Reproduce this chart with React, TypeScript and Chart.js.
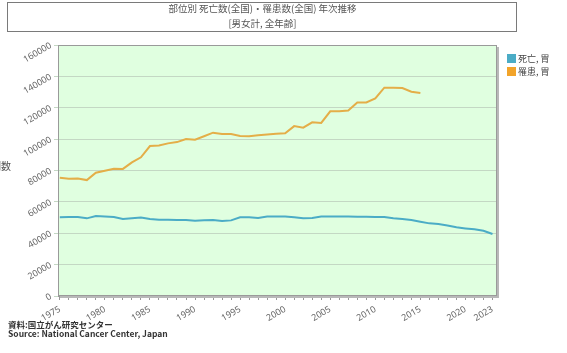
import React, { useEffect, useRef } from "react";
import { Chart, registerables } from "chart.js";

Chart.register(...registerables);

const titleLine1 = "部位別 死亡数(全国)・罹患数(全国) 年次推移";
const titleLine2 = "[男女計, 全年齢]";
const sourceJa = "資料:国立がん研究センター";
const sourceEn = "Source: National Cancer Center, Japan";
const yAxisTitle = "例数";

const deathLabel = "死亡, 胃";
const incidenceLabel = "罹患, 胃";

const deathYears = [
  1975, 1976, 1977, 1978, 1979, 1980, 1981, 1982, 1983, 1984, 1985, 1986, 1987, 1988, 1989,
  1990, 1991, 1992, 1993, 1994, 1995, 1996, 1997, 1998, 1999, 2000, 2001, 2002, 2003, 2004,
  2005, 2006, 2007, 2008, 2009, 2010, 2011, 2012, 2013, 2014, 2015, 2016, 2017, 2018, 2019,
  2020, 2021, 2022, 2023,
];
const deathValues = [
  50200, 50400, 50400, 49500, 51000, 50700, 50400, 49100, 49500, 50000, 49100, 48600, 48600, 48400, 48400,
  48000, 48300, 48400, 47800, 48200, 50200, 50200, 49700, 50600, 50700, 50700, 50200, 49500, 49700, 50600,
  50600, 50600, 50600, 50500, 50500, 50300, 50300, 49500, 49100, 48400, 47400, 46300, 45900, 45000, 43800,
  43100, 42500, 41600, 39500,
];

const incidenceYears = [
  1975, 1976, 1977, 1978, 1979, 1980, 1981, 1982, 1983, 1984, 1985, 1986, 1987, 1988, 1989,
  1990, 1991, 1992, 1993, 1994, 1995, 1996, 1997, 1998, 1999, 2000, 2001, 2002, 2003, 2004,
  2005, 2006, 2007, 2008, 2009, 2010, 2011, 2012, 2013, 2014, 2015,
];
const incidenceValues = [
  75400, 74800, 74900, 73900, 78600, 79900, 81100, 81000, 85200, 88400, 95600, 96000, 97300, 98100, 100100,
  99600, 101800, 104100, 103200, 103200, 102000, 101800, 102400, 103000, 103400, 103700, 108300, 107300, 110700, 110300,
  117700, 117700, 118300, 123400, 123400, 126000, 132800, 132800, 132600, 130200, 129400,
];

const tickYears = [
  1975, 1976, 1977, 1978, 1979, 1980, 1981, 1982, 1983, 1984, 1985, 1986, 1987, 1988, 1989,
  1990, 1991, 1992, 1993, 1994, 1995, 1996, 1997, 1998, 1999, 2000, 2001, 2002, 2003, 2004,
  2005, 2006, 2007, 2008, 2009, 2010, 2011, 2012, 2013, 2014, 2015, 2016, 2017, 2018, 2019,
  2020, 2021, 2022, 2023,
];
const labeledYears = [1975, 1980, 1985, 1990, 1995, 2000, 2005, 2010, 2015, 2020, 2023];
const yTicks = [0, 20000, 40000, 60000, 80000, 100000, 120000, 140000, 160000];

const deathColor = "#4bacc6";
const incidenceColor = "#e4ae48";
const legendIncColor = "#f2a42a";

const plotAreaPlugin = {
  id: "plotArea",
  beforeDraw(chart: any) {
    const { ctx, chartArea: a } = chart;
    ctx.save();
    ctx.fillStyle = "#e0ffe0";
    ctx.fillRect(a.left, a.top, a.right - a.left, a.bottom - a.top);
    ctx.restore();
  },
  afterDraw(chart: any) {
    const { ctx, chartArea: a } = chart;
    ctx.save();
    ctx.fillStyle = "#b8b8b8";
    ctx.fillRect(a.right, a.top + 2, 2, a.bottom - a.top);
    ctx.fillRect(a.left + 2, a.bottom, a.right - a.left, 2);
    ctx.strokeStyle = "#9a9a9a";
    ctx.lineWidth = 1;
    ctx.strokeRect(a.left + 0.5, a.top + 0.5, a.right - a.left - 1, a.bottom - a.top - 1);
    ctx.restore();
  },
};

export default function App() {
  const ref = useRef<HTMLCanvasElement | null>(null);

  useEffect(() => {
    if (!ref.current) return;
    const chart = new Chart(ref.current, {
      type: "line",
      data: {
        datasets: [
          {
            label: deathLabel,
            data: deathYears.map((x, i) => ({ x, y: deathValues[i] })),
            borderColor: deathColor,
            backgroundColor: deathColor,
            borderWidth: 2,
            pointRadius: 0,
            tension: 0,
          },
          {
            label: incidenceLabel,
            data: incidenceYears.map((x, i) => ({ x, y: incidenceValues[i] })),
            borderColor: incidenceColor,
            backgroundColor: incidenceColor,
            borderWidth: 2,
            pointRadius: 0,
            tension: 0,
          },
        ],
      },
      options: {
        animation: false,
        responsive: false,
        maintainAspectRatio: false,
        layout: { padding: { top: 45, right: 70, left: 0, bottom: 0 } },
        plugins: {
          legend: { display: false },
          tooltip: { enabled: false },
        },
        scales: {
          x: {
            type: "linear",
            min: 1974.8,
            max: 2023.5,
            afterBuildTicks: (scale: any) => {
              scale.ticks = tickYears.map((v) => ({ value: v }));
            },
            afterFit: (scale: any) => {
              scale.height = 57;
            },
            grid: {
              drawOnChartArea: false,
              drawTicks: true,
              tickLength: 4,
              color: "#999999",
            },
            border: { display: true, color: "#999999" },
            ticks: {
              autoSkip: false,
              minRotation: 30,
              maxRotation: 30,
              padding: 4,
              color: "#666666",
              font: { family: "Noto Sans", size: 9 },
              callback: (v: any) => (labeledYears.includes(Number(v)) ? String(v) : ""),
            },
          },
          y: {
            min: 0,
            max: 160000,
            afterBuildTicks: (scale: any) => {
              scale.ticks = yTicks.map((v) => ({ value: v }));
            },
            afterFit: (scale: any) => {
              scale.width = 58;
            },
            grid: {
              color: "#c4d8c4",
              drawTicks: true,
              tickLength: 4,
            },
            border: { display: true, color: "#999999" },
            ticks: {
              minRotation: 30,
              maxRotation: 30,
              padding: 3,
              color: "#666666",
              font: { family: "Noto Sans", size: 9 },
              callback: (v: any) => String(v),
            },
          },
        },
      },
      plugins: [plotAreaPlugin],
    });
    return () => chart.destroy();
  }, []);

  const text = "'Noto Sans CJK JP', 'Noto Sans', sans-serif";

  return (
    <div
      style={{
        position: "fixed",
        left: 0,
        top: 0,
        width: 567,
        height: 353,
        background: "#ffffff",
        fontFamily: text,
        overflow: "hidden",
      }}
    >
      <canvas ref={ref} width={567} height={353} style={{ position: "absolute", left: 0, top: 0 }} />
      <div
        style={{
          position: "absolute",
          left: 7,
          top: 2,
          width: 508,
          height: 28,
          border: "1.5px solid #7a7a7a",
        }}
      />
      <div
        style={{
          position: "absolute",
          left: 7,
          width: 511,
          top: 1,
          textAlign: "center",
          color: "#555",
          fontSize: 9.5,
          lineHeight: "15px",
        }}
      >
        <div>{titleLine1}</div>
        <div>{titleLine2}</div>
      </div>
      <div style={{ position: "absolute", left: 507, top: 52, fontSize: 9, color: "#444", lineHeight: "13px" }}>
        <div style={{ display: "flex", alignItems: "center" }}>
          <span style={{ width: 9, height: 9, background: deathColor, marginRight: 2, display: "inline-block" }} />
          {deathLabel}
        </div>
        <div style={{ display: "flex", alignItems: "center" }}>
          <span style={{ width: 9, height: 9, background: legendIncColor, marginRight: 2, display: "inline-block" }} />
          {incidenceLabel}
        </div>
      </div>
      <div style={{ position: "absolute", left: -9, top: 160, fontSize: 10, lineHeight: "12px", color: "#555" }}>
        {yAxisTitle}
      </div>
      <div
        style={{
          position: "absolute",
          left: 8,
          top: 320,
          fontSize: 8.5,
          fontWeight: "bold",
          color: "#333",
          lineHeight: "9px",
        }}
      >
        <div>{sourceJa}</div>
        <div>{sourceEn}</div>
      </div>
    </div>
  );
}
